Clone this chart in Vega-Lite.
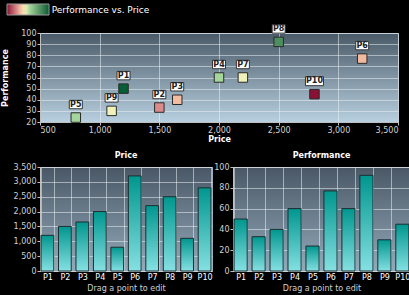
{
  "$schema": "https://vega.github.io/schema/vega-lite/v6.json",
  "background": "#000000",
  "padding": {"left": 1, "top": 4, "right": 0, "bottom": 3},
  "align": "none",
  "datasets": {
    "products": [
      {"name": "P1", "price": 1200, "performance": 50, "ratio": 0.0417},
      {"name": "P2", "price": 1500, "performance": 33, "ratio": 0.022},
      {"name": "P3", "price": 1650, "performance": 40, "ratio": 0.0242},
      {"name": "P4", "price": 2000, "performance": 60, "ratio": 0.03},
      {"name": "P5", "price": 800, "performance": 24, "ratio": 0.03},
      {"name": "P6", "price": 3200, "performance": 77, "ratio": 0.0241},
      {"name": "P7", "price": 2200, "performance": 60, "ratio": 0.0273},
      {"name": "P8", "price": 2500, "performance": 92, "ratio": 0.0368},
      {"name": "P9", "price": 1100, "performance": 30, "ratio": 0.0273},
      {"name": "P10", "price": 2800, "performance": 45, "ratio": 0.0161}
    ]
  },
  "config": {
    "font": "DejaVu Sans",
    "axis": {
      "labelColor": "#d0d0d0",
      "labelFontSize": 8,
      "titleColor": "#ffffff",
      "titleFontSize": 8,
      "titleFontWeight": "bold",
      "gridColor": "#e8eef2",
      "gridOpacity": 0.55,
      "domainColor": "#c0c0c0",
      "tickColor": "#c0c0c0",
      "tickSize": 3
    },
    "title": {"color": "#ffffff", "fontSize": 8, "fontWeight": "bold", "font": "DejaVu Sans"},
    "concat": {"spacing": 7}
  },
  "vconcat": [
    {
      "width": 358,
      "height": 89,
      "data": {"name": "products"},
      "title": {"text": "Performance vs. Price", "anchor": "start", "dx": 50, "offset": 8, "fontSize": 9, "fontWeight": "normal"},
      "view": {
        "stroke": "#a0b0bc",
        "fill": {"gradient": "linear", "x1": 0, "y1": 0, "x2": 0, "y2": 1,
          "stops": [{"offset": 0, "color": "#4a5a68"}, {"offset": 1, "color": "#b8d0e0"}]}
      },
      "encoding": {
        "x": {"field": "price", "type": "quantitative", "title": "Price",
          "scale": {"domain": [500, 3500], "nice": false},
          "axis": {"values": [500, 1000, 1500, 2000, 2500, 3000, 3500], "format": ",d", "titlePadding": 1, "labelPadding": 1}},
        "y": {"field": "performance", "type": "quantitative", "title": "Performance",
          "scale": {"domain": [20, 100], "nice": false},
          "axis": {"values": [20, 30, 40, 50, 60, 70, 80, 90, 100], "titlePadding": 11, "labelPadding": 1}}
      },
      "layer": [
        {
          "mark": {"type": "point", "shape": "square", "filled": true, "size": 90, "stroke": "#2a2a2a", "strokeWidth": 1, "opacity": 1},
          "encoding": {
            "color": {"field": "ratio", "type": "quantitative",
              "scale": {"domain": [0.016, 0.0225, 0.0245, 0.0272, 0.03, 0.042],
                "range": ["#8a0c34", "#e09494", "#f4c4a4", "#f4f2bc", "#a4d69c", "#005a34"]},
              "legend": {"orient": "none", "legendX": -33, "legendY": -29, "direction": "horizontal",
                "title": null, "labels": false, "gradientLength": 42, "gradientThickness": 11,
                "gradientStrokeColor": "#999999", "gradientStrokeWidth": 1}}
          }
        },
        {
          "transform": [{"filter": "length(datum.name) < 3"}],
          "mark": {"type": "point", "shape": "M-1,-0.65H1V0.65H-1Z", "filled": true, "fill": "#ffffff", "stroke": "#333333", "strokeWidth": 1, "size": 169, "yOffset": -13, "opacity": 1}
        },
        {
          "transform": [{"filter": "length(datum.name) >= 3"}],
          "mark": {"type": "point", "shape": "M-1,-0.5H1V0.5H-1Z", "filled": true, "fill": "#ffffff", "stroke": "#333333", "strokeWidth": 1, "size": 324, "yOffset": -13, "opacity": 1}
        },
        {
          "mark": {"type": "text", "fontSize": 8, "fontWeight": "bold", "color": "#222222", "yOffset": -13, "baseline": "middle"},
          "encoding": {"text": {"field": "name"}}
        }
      ]
    },
    {
      "spacing": 0,
      "hconcat": [
        {
          "width": 172,
          "height": 104,
          "data": {"name": "products"},
          "title": {"text": "Price", "offset": 3},
          "view": {
            "stroke": "#a0b0bc",
            "fill": {"gradient": "linear", "x1": 0, "y1": 0, "x2": 0, "y2": 1,
              "stops": [{"offset": 0, "color": "#4a5866"}, {"offset": 1, "color": "#94aabb"}]}
          },
          "mark": {"type": "bar", "stroke": "#1c2e30", "strokeWidth": 1,
            "fill": {"gradient": "linear", "x1": 0, "y1": 0, "x2": 0, "y2": 1,
              "stops": [{"offset": 0, "color": "#00968e"}, {"offset": 1, "color": "#86e0e2"}]}},
          "encoding": {
            "x": {"field": "name", "type": "nominal", "sort": null, "title": "Drag a point to edit",
              "scale": {"paddingInner": 0.27, "paddingOuter": 0.06},
              "axis": {"labelAngle": 0, "labelColor": "#ffffff", "grid": true, "tickBand": "extent", "ticks": false, "domain": false,
                "labelPadding": 2, "titlePadding": 3, "titleFontWeight": "normal", "titleColor": "#d0d0d0"}},
            "y": {"field": "price", "type": "quantitative", "title": null,
              "scale": {"domain": [0, 3500], "nice": false},
              "axis": {"values": [0, 500, 1000, 1500, 2000, 2500, 3000, 3500], "format": ",d", "labelPadding": 1}}
          }
        },
        {
          "width": 177,
          "height": 104,
          "data": {"name": "products"},
          "title": {"text": "Performance", "offset": 3},
          "view": {
            "stroke": "#a0b0bc",
            "fill": {"gradient": "linear", "x1": 0, "y1": 0, "x2": 0, "y2": 1,
              "stops": [{"offset": 0, "color": "#4a5866"}, {"offset": 1, "color": "#94aabb"}]}
          },
          "mark": {"type": "bar", "stroke": "#1c2e30", "strokeWidth": 1,
            "fill": {"gradient": "linear", "x1": 0, "y1": 0, "x2": 0, "y2": 1,
              "stops": [{"offset": 0, "color": "#00968e"}, {"offset": 1, "color": "#86e0e2"}]}},
          "encoding": {
            "x": {"field": "name", "type": "nominal", "sort": null, "title": "Drag a point to edit",
              "scale": {"paddingInner": 0.27, "paddingOuter": 0.06},
              "axis": {"labelAngle": 0, "labelColor": "#ffffff", "grid": true, "tickBand": "extent", "ticks": false, "domain": false,
                "labelPadding": 2, "titlePadding": 3, "titleFontWeight": "normal", "titleColor": "#d0d0d0"}},
            "y": {"field": "performance", "type": "quantitative", "title": null,
              "scale": {"domain": [0, 100], "nice": false},
              "axis": {"values": [0, 20, 40, 60, 80, 100], "labelPadding": 1}}
          }
        }
      ]
    }
  ]
}
